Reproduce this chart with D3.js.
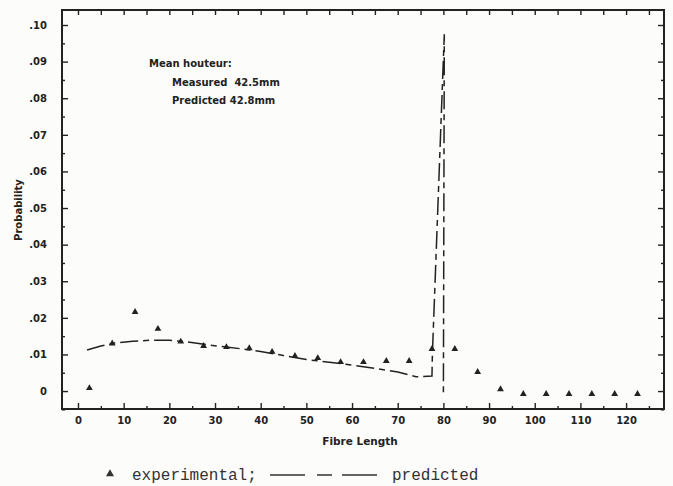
<!DOCTYPE html>
<html>
<head>
<meta charset="utf-8">
<script src="https://cdn.jsdelivr.net/npm/d3@7"></script>
<style>
  body { margin: 0; background: #fcfcfa; }
  svg { display: block; }
  .tick text { font-family: "DejaVu Sans", sans-serif; font-weight: bold; font-size: 10px; fill: #222; }
</style>
</head>
<body>
<div id="container"></div>
<script>
let w = 673;
let h = 486;

// experimental points (triangles)
let expX = [2.5, 7.5, 12.5, 17.5, 22.5, 27.5, 32.5, 37.5, 42.5, 47.5, 52.5, 57.5, 62.5,
  67.5, 72.5, 77.5, 82.5, 87.5, 92.5, 97.5, 102.5, 107.5, 112.5, 117.5, 122.5];
let expY = [0.0008, 0.0130, 0.0216, 0.0170, 0.0135, 0.0123, 0.0120, 0.0117, 0.0107, 0.0096,
  0.0090, 0.0079, 0.0079, 0.0082, 0.0082, 0.0115, 0.0115, 0.0052, 0.0005, -0.0008,
  -0.0008, -0.0008, -0.0008, -0.0008, -0.0008];

// predicted curve
let predX = [2, 5, 8, 12, 16, 20, 24, 28, 32, 36, 40, 45, 50, 55, 60, 65, 70, 74, 77.5, 77.6, 80.2, 80.0];
let predY = [0.0112, 0.0123, 0.0131, 0.0136, 0.0139, 0.0139, 0.0134, 0.0127, 0.0121, 0.0115,
  0.0108, 0.0097, 0.0086, 0.0079, 0.0071, 0.0062, 0.0052, 0.0039, 0.0041, 0.0104, 0.0975, -0.0012];

let xMajor = [0, 10, 20, 30, 40, 50, 60, 70, 80, 90, 100, 110, 120];
let xMinor = [5, 15, 25, 35, 45, 55, 65, 75, 85, 95, 105, 115, 125];
let yMajor = [0, 0.01, 0.02, 0.03, 0.04, 0.05, 0.06, 0.07, 0.08, 0.09, 0.10];
let yMinor = [-0.005, 0.005, 0.015, 0.025, 0.035, 0.045, 0.055, 0.065, 0.075, 0.085, 0.095];

let notes = ["Mean houteur:", "Measured  42.5mm", "Predicted 42.8mm"];

let padL = 62, padR = 664, padT = 10, padB = 409;
let ink = "#222";

let viz = d3.select("#container")
  .append("svg")
  .attr("width", w)
  .attr("height", h)
  ;

let xScale = d3.scaleLinear().domain([-3.5, 128.3]).range([padL, padR]);
let yScale = d3.scaleLinear().domain([-0.0049, 0.1041]).range([padB, padT]);

let yFmt = function (d) {
  return d === 0 ? "0" : d3.format(".2f")(d).replace("0.", ".");
};

function clean(g) {
  g.select(".domain").remove();
  g.selectAll(".tick line").attr("stroke", ink).attr("stroke-width", 1.4);
}

// bottom axis
viz.append("g").attr("transform", "translate(0," + padB + ")")
  .call(d3.axisBottom(xScale).tickValues(xMajor).tickSize(-6).tickPadding(8))
  .call(clean);
viz.append("g").attr("transform", "translate(0," + padB + ")")
  .call(d3.axisBottom(xScale).tickValues(xMinor).tickSize(-3).tickFormat(""))
  .call(clean);

// top ticks
viz.append("g").attr("transform", "translate(0," + padT + ")")
  .call(d3.axisTop(xScale).tickValues(xMajor.concat(xMinor)).tickSize(-5).tickFormat(""))
  .call(clean);

// left axis
viz.append("g").attr("transform", "translate(" + padL + ",0)")
  .call(d3.axisLeft(yScale).tickValues(yMajor).tickSize(-6).tickPadding(15).tickFormat(yFmt))
  .call(clean);
viz.append("g").attr("transform", "translate(" + padL + ",0)")
  .call(d3.axisLeft(yScale).tickValues(yMinor).tickSize(-3).tickFormat(""))
  .call(clean);

// right ticks
viz.append("g").attr("transform", "translate(" + padR + ",0)")
  .call(d3.axisRight(yScale).tickValues(yMajor).tickSize(-6).tickFormat(""))
  .call(clean);
viz.append("g").attr("transform", "translate(" + padR + ",0)")
  .call(d3.axisRight(yScale).tickValues(yMinor).tickSize(-3).tickFormat(""))
  .call(clean);

// frame
viz.append("rect")
  .attr("x", padL).attr("y", padT)
  .attr("width", padR - padL).attr("height", padB - padT)
  .attr("fill", "none").attr("stroke", ink).attr("stroke-width", 2);

// predicted line
let predData = predX.map(function (d, i) { return [d, predY[i]]; });
let line = d3.line()
  .x(function (d) { return xScale(d[0]); })
  .y(function (d) { return yScale(d[1]); });

viz.append("path")
  .datum(predData)
  .attr("d", line)
  .attr("fill", "none")
  .attr("stroke", ink)
  .attr("stroke-width", 1.5)
  .attr("stroke-dasharray", "18,5,6,5");

// experimental triangles
let tri = d3.symbol().type(d3.symbolTriangle).size(20);
viz.selectAll(".exp")
  .data(expX)
  .enter()
  .append("path")
  .attr("class", "exp")
  .attr("d", tri)
  .attr("fill", ink)
  .attr("transform", function (d, i) {
    return "translate(" + xScale(d) + "," + yScale(expY[i]) + ")";
  });

// axis titles
viz.append("text")
  .attr("x", 360).attr("y", 445)
  .attr("text-anchor", "middle")
  .style("font-family", "DejaVu Sans, sans-serif")
  .style("font-weight", "bold")
  .style("font-size", "10.5px")
  .attr("fill", ink)
  .text("Fibre Length");

viz.append("text")
  .attr("transform", "translate(22,210) rotate(-90)")
  .attr("text-anchor", "middle")
  .style("font-family", "DejaVu Sans, sans-serif")
  .style("font-weight", "bold")
  .style("font-size", "10px")
  .attr("fill", ink)
  .text("Probability");

// annotation
viz.selectAll(".note")
  .data(notes)
  .enter()
  .append("text")
  .attr("class", "note")
  .attr("x", function (d, i) { return i === 0 ? 149 : 172; })
  .attr("y", function (d, i) { return 67 + i * 18.5; })
  .style("font-family", "DejaVu Sans, sans-serif")
  .style("font-weight", "bold")
  .style("font-size", "10px")
  .style("white-space", "pre")
  .attr("fill", ink)
  .text(function (d) { return d; });

// legend
let legY = 475;
viz.append("path")
  .attr("d", d3.symbol().type(d3.symbolTriangle).size(28))
  .attr("fill", "#333")
  .attr("transform", "translate(110," + (legY - 1) + ")");

viz.append("text")
  .attr("x", 132).attr("y", legY + 5)
  .style("font-family", "Liberation Mono, monospace")
  .style("font-size", "16px")
  .attr("fill", "#333")
  .text("experimental;");

viz.append("line")
  .attr("x1", 270).attr("x2", 377)
  .attr("y1", legY).attr("y2", legY)
  .attr("stroke", "#333")
  .attr("stroke-width", 1.5)
  .attr("stroke-dasharray", "35,12,15,10,35");

viz.append("text")
  .attr("x", 392).attr("y", legY + 5)
  .style("font-family", "Liberation Mono, monospace")
  .style("font-size", "16px")
  .attr("fill", "#333")
  .text("predicted");
</script>
</body>
</html>
